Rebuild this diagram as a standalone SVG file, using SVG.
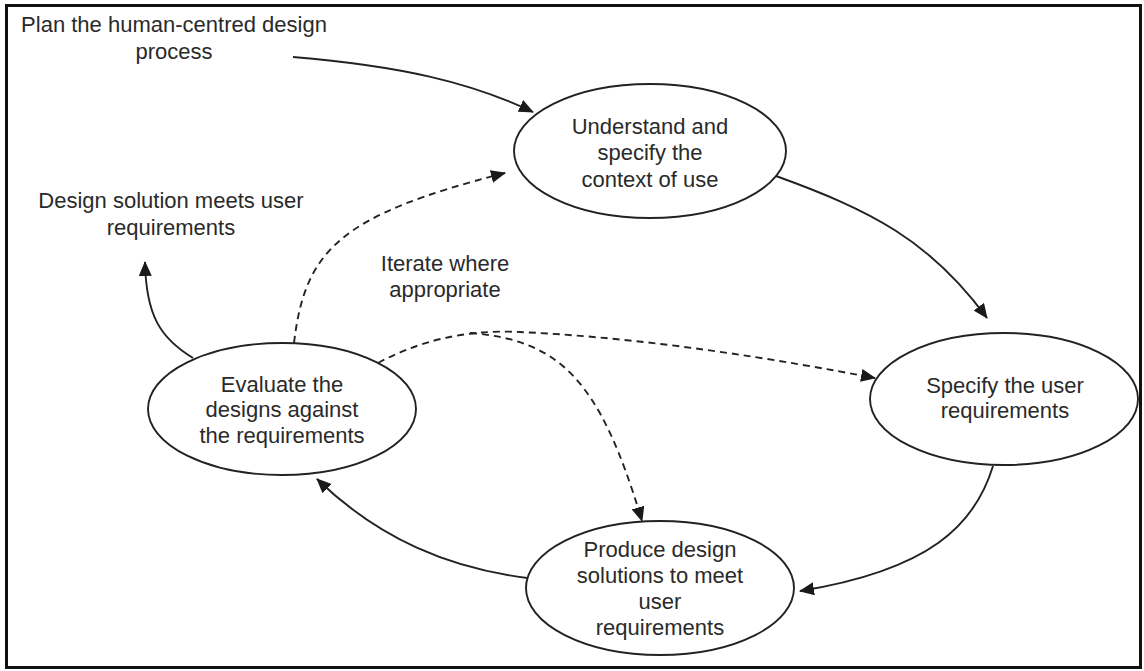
<svg xmlns="http://www.w3.org/2000/svg" width="1144" height="671" viewBox="0 0 1144 671">
<defs>
<style>
.t{font-family:"Liberation Sans",Arial,sans-serif;font-size:22px;fill:#2a2a2a;text-anchor:middle}
.n{fill:#fff;stroke:#222;stroke-width:1.9}
.c{fill:none;stroke:#222;stroke-width:1.9}
.d{fill:none;stroke:#222;stroke-width:1.9;stroke-dasharray:7 5}
</style>
<marker id="ah" markerUnits="userSpaceOnUse" markerWidth="15" markerHeight="13" refX="14" refY="6.5" orient="auto"><path d="M0,0 L15,6.5 L0,13 z" fill="#1a1a1a"/></marker>
</defs>
<rect x="0" y="0" width="1144" height="671" fill="#fff"/>
<rect x="6.5" y="5.5" width="1134" height="662" fill="none" stroke="#111" stroke-width="3"/>
<g id="connectors">
<path class="c" d="M293,57 C400,66 470,82 533,112" marker-end="url(#ah)"/>
<path class="c" d="M776,176 C870,210 930,240 987,318" marker-end="url(#ah)"/>
<path class="c" d="M993,466 C975,525 930,570 800,591" marker-end="url(#ah)"/>
<path class="c" d="M527,578 C450,568 380,540 317,479" marker-end="url(#ah)"/>
<path class="c" d="M193,358 C160,338 146,315 145,262" marker-end="url(#ah)"/>
<path class="d" d="M294,343 C305,250 340,215 505,173" marker-end="url(#ah)"/>
<path class="d" d="M378,363 C430,335 480,330 520,332 C650,338 780,360 875,378" marker-end="url(#ah)"/>
<path class="d" d="M470,333 C560,340 600,380 642,521" marker-end="url(#ah)"/>
</g>
<g id="label-plan">
<text class="t" x="174" y="32">Plan the human-centred design</text>
<text class="t" x="174" y="59">process</text>
</g>
<g id="label-meets">
<text class="t" x="171" y="208">Design solution meets user</text>
<text class="t" x="171" y="235">requirements</text>
</g>
<g id="label-iterate">
<text class="t" x="445" y="271">Iterate where</text>
<text class="t" x="445" y="297">appropriate</text>
</g>
<g id="node-context">
<ellipse class="n" cx="650" cy="151" rx="136" ry="67"/>
<text class="t" x="650" y="134">Understand and</text>
<text class="t" x="650" y="160">specify the</text>
<text class="t" x="650" y="187">context of use</text>
</g>
<g id="node-requirements">
<ellipse class="n" cx="1004" cy="399" rx="134" ry="66"/>
<text class="t" x="1005" y="393">Specify the user</text>
<text class="t" x="1005" y="418">requirements</text>
</g>
<g id="node-produce">
<ellipse class="n" cx="660" cy="588" rx="134" ry="67"/>
<text class="t" x="660" y="557">Produce design</text>
<text class="t" x="660" y="583">solutions to meet</text>
<text class="t" x="660" y="609">user</text>
<text class="t" x="660" y="635">requirements</text>
</g>
<g id="node-evaluate">
<ellipse class="n" cx="282" cy="409" rx="134" ry="66"/>
<text class="t" x="282" y="392">Evaluate the</text>
<text class="t" x="282" y="417">designs against</text>
<text class="t" x="282" y="443">the requirements</text>
</g>
</svg>
